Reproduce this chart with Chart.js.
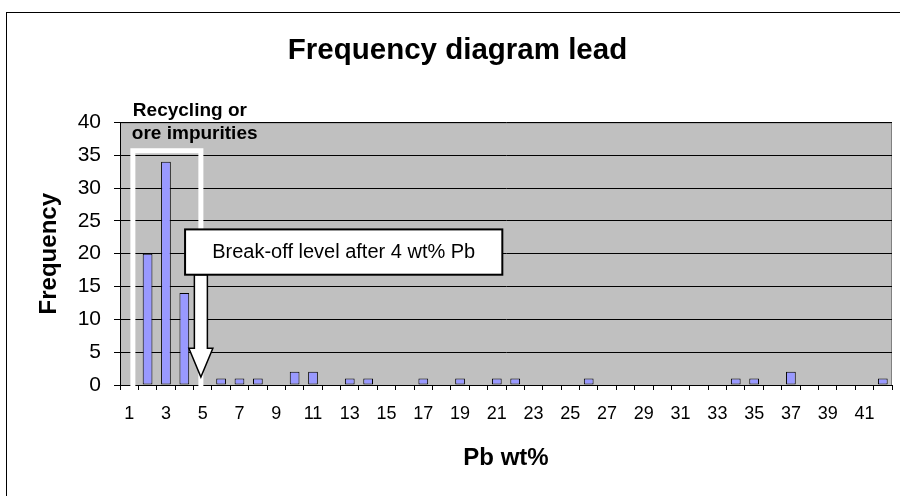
<!DOCTYPE html>
<html>
<head>
<meta charset="utf-8">
<script src="https://cdn.jsdelivr.net/npm/chart.js@4/dist/chart.umd.min.js"></script>
<style>
  body { margin: 0; background: #fff; }
  canvas { display: block; }
</style>
</head>
<body>
<canvas id="leadChart" width="900" height="496"></canvas>
<script>
// Pb wt% classes and how many samples fall in each
const pbClasses = ['1', '2', '3', '4', '5', '6', '7', '8', '9', '10', '11', '12', '13', '14',
    '15', '16', '17', '18', '19', '20', '21', '22', '23', '24', '25', '26', '27', '28',
    '29', '30', '31', '32', '33', '34', '35', '36', '37', '38', '39', '40', '41', '42'];
const frequency = [0, 20, 34, 14, 0, 1, 1, 1, 0, 2, 2, 0, 1, 1,
    0, 0, 1, 0, 1, 0, 1, 1, 0, 0, 0, 1, 0, 0,
    0, 0, 0, 0, 0, 1, 1, 0, 2, 0, 0, 0, 0, 1];
const yTicks = [0, 5, 10, 15, 20, 25, 30, 35, 40];

const FONT = '"Liberation Sans", Arial, sans-serif';

// page frame, grey plot background
const background = {
    id: 'background',
    beforeDraw(chart) {
        const { ctx, chartArea: a } = chart;
        ctx.save();
        ctx.fillStyle = '#fff';
        ctx.fillRect(0, 0, chart.width, chart.height);
        ctx.strokeStyle = '#000';
        ctx.lineWidth = 1;
        ctx.strokeRect(6.5, 12.5, chart.width, chart.height);
        ctx.fillStyle = '#c0c0c0';
        ctx.fillRect(a.left, a.top, a.right - a.left, a.bottom - a.top);
        ctx.strokeStyle = '#808080';
        ctx.strokeRect(a.left + 0.5, a.top + 0.5, a.right - a.left - 1, a.bottom - a.top);
        ctx.restore();
    }
};

// the drawn-on notes: bracket, arrow, text box
const notes = {
    id: 'notes',
    afterDatasetsDraw(chart) {
        const { ctx } = chart;
        const x = chart.scales.x, y = chart.scales.y;
        const xl = x.getPixelForValue(0.2), xr = x.getPixelForValue(3.9);
        const yt = y.getPixelForValue(35.7), yb = y.getPixelForValue(0) + 2;
        ctx.save();

        ctx.strokeStyle = '#fff';
        ctx.lineWidth = 5;
        ctx.lineJoin = 'miter';
        ctx.beginPath();
        ctx.moveTo(xl, yb);
        ctx.lineTo(xl, yt);
        ctx.lineTo(xr, yt);
        ctx.lineTo(xr, yb);
        ctx.stroke();

        const bx1 = x.getPixelForValue(3.04), bx2 = x.getPixelForValue(20.3);
        const by1 = y.getPixelForValue(23.7), by2 = y.getPixelForValue(16.8);

        // arrow
        const ax = xr, sw = 6.5, hw = 12;
        const headTop = y.getPixelForValue(5.6), tip = y.getPixelForValue(1.2);
        ctx.beginPath();
        ctx.moveTo(ax - sw, by2);
        ctx.lineTo(ax - sw, headTop);
        ctx.lineTo(ax - hw, headTop);
        ctx.lineTo(ax, tip);
        ctx.lineTo(ax + hw, headTop);
        ctx.lineTo(ax + sw, headTop);
        ctx.lineTo(ax + sw, by2);
        ctx.closePath();
        ctx.fillStyle = '#fff';
        ctx.fill();
        ctx.strokeStyle = '#000';
        ctx.lineWidth = 1.5;
        ctx.stroke();

        // text box
        ctx.fillStyle = '#fff';
        ctx.fillRect(bx1, by1, bx2 - bx1, by2 - by1);
        ctx.lineWidth = 2;
        ctx.strokeRect(bx1, by1, bx2 - bx1, by2 - by1);
        ctx.fillStyle = '#000';
        ctx.font = '20px ' + FONT;
        ctx.textAlign = 'center';
        ctx.textBaseline = 'middle';
        ctx.fillText('Break-off level after 4 wt% Pb', (bx1 + bx2) / 2, (by1 + by2) / 2);

        ctx.font = 'bold 19px ' + FONT;
        ctx.textAlign = 'left';
        ctx.fillText('Recycling or', xl, y.getPixelForValue(41.8));
        ctx.fillText('ore impurities', xl - 1, y.getPixelForValue(38.3));
        ctx.restore();
    }
};

new Chart(document.getElementById('leadChart'), {
    type: 'bar',
    data: {
        labels: pbClasses,
        datasets: [{
            data: frequency,
            backgroundColor: '#9999ff',
            borderColor: '#000',
            borderWidth: 1,
            borderSkipped: false,
            barPercentage: 0.53,
            categoryPercentage: 1
        }]
    },
    options: {
        responsive: false,
        animation: false,
        events: [],
        layout: { padding: { left: 23, right: 8, top: 0, bottom: 0 } },
        plugins: {
            legend: { display: false },
            tooltip: { enabled: false },
            title: {
                display: true,
                text: 'Frequency diagram lead',
                color: '#000',
                font: { family: FONT, size: 29.5, weight: 'bold' },
                padding: { top: 33, bottom: 54 }
            }
        },
        scales: {
            x: {
                offset: true,
                grid: { offset: true, drawOnChartArea: false, color: '#000', tickLength: 5 },
                border: { color: '#000', width: 1 },
                ticks: {
                    color: '#000',
                    font: { family: FONT, size: 18 },
                    autoSkip: false,
                    maxRotation: 0,
                    padding: 13,
                    callback: (v, i) => (i % 2 === 0 ? pbClasses[i] : '')
                },
                title: {
                    display: true,
                    text: 'Pb wt%',
                    color: '#000',
                    font: { family: FONT, size: 24, weight: 'bold' },
                    padding: { top: 0, bottom: 23 }
                },
                afterFit: s => { s.height = 111; }
            },
            y: {
                min: 0,
                max: 40,
                afterBuildTicks: s => { s.ticks = yTicks.map(v => ({ value: v })); },
                grid: { color: '#000', tickLength: 6 },
                border: { color: '#000', width: 1 },
                ticks: {
                    color: '#000',
                    font: { family: FONT, size: 21 },
                    padding: 13
                },
                title: {
                    display: true,
                    text: 'Frequency',
                    color: '#000',
                    font: { family: FONT, size: 24, weight: 'bold' },
                    padding: { top: 12, bottom: 0 }
                },
                afterFit: s => { s.width = 97; }
            }
        }
    },
    plugins: [background, notes]
});
</script>
</body>
</html>
